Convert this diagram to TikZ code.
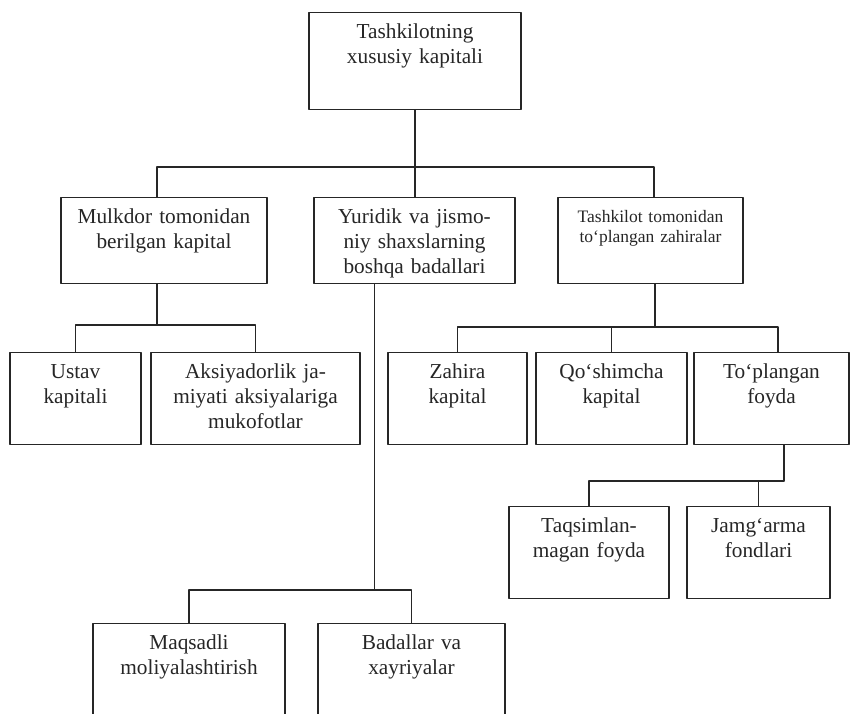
\documentclass[tikz,border=0pt]{standalone}
\usepackage{fontspec}
\setmainfont{Liberation Serif}
\usetikzlibrary{arrows}
\newcommand{\boxfont}{\fontsize{10.65pt}{12.5pt}\selectfont}
\newcommand{\smallboxfont}{\fontsize{8.75pt}{10pt}\selectfont}

\begin{document}
\begin{tikzpicture}[x=0.5pt,y=-0.5pt,line cap=round,line join=round,
  unit/.style={draw=black!85,line width=0.55pt,anchor=north,inner sep=0pt,align=center,
    text=black!85,text height=13pt,font=\boxfont},
  wire/.style={draw=black!85,line width=0.55pt}]
\useasboundingbox (0,0) rectangle (850,713);
\clip (0,0) rectangle (850,713);
\node[unit,text width=106pt,text depth=35.5pt] (own) at (415,12) {Tashkilotning\\xususiy kapitali};
\node[unit,text width=103pt,text depth=30pt] (mulk) at (164,197) {Mulkdor tomonidan\\berilgan kapital};
\node[unit,text width=100.5pt,text depth=30pt] (yur) at (414.5,197) {Yuridik va jismo-\\niy shaxslarning\\boshqa badallari};
\node[unit,text width=92.5pt,text height=12.5pt,text depth=30.5pt,font=\smallboxfont] (tash) at (650.5,197) {Tashkilot tomonidan\\to‘plangan zahiralar};
\node[unit,text width=65.5pt,text depth=33pt] (ustav) at (75.5,352) {Ustav\\kapitali};
\node[unit,text width=104.5pt,text depth=33pt] (aksi) at (255.5,352) {Aksiyadorlik ja-\\miyati aksiyalariga\\mukofotlar};
\node[unit,text width=69.5pt,text depth=33pt] (zah) at (457.5,352) {Zahira\\kapital};
\node[unit,text width=75.5pt,text depth=33pt] (qosh) at (611.5,352) {Qo‘shimcha\\kapital};
\node[unit,text width=77.5pt,text depth=33pt] (topl) at (771.5,352) {To‘plangan\\foyda};
\node[unit,text width=80pt,text depth=33pt] (taqs) at (589,506) {Taqsimlan-\\magan foyda};
\node[unit,text width=71.5pt,text depth=33pt] (jamg) at (758.5,506) {Jamg‘arma\\fondlari};
\node[unit,text width=96pt,text depth=47pt] (maqs) at (189,623) {Maqsadli\\moliyalashtirish};
\node[unit,text width=93.5pt,text depth=47pt] (bad) at (411.5,623) {Badallar va\\xayriyalar};

\coordinate (bus1) at (415,167);
\coordinate (bus2) at (157,325);
\coordinate (bus3) at (655,327);
\coordinate (bus4) at (784,481);
\coordinate (bus5) at (374.5,590);

\draw[wire] (own.south) -- (own.south |- yur.north);
\draw[wire] ([xshift=-3.5pt]mulk.north) |- (bus1) -| ([xshift=1.75pt]tash.north);
\draw[wire] ([xshift=-3.5pt]mulk.south) -- (bus2);
\draw[wire] (ustav.north) |- (bus2) -| (aksi.north);
\draw[wire] ([xshift=2.25pt]tash.south) -- (bus3);
\draw[wire] (zah.north) |- (bus3) -| ([xshift=3.25pt]topl.north);
\draw[wire] (qosh.north) -- (qosh.north |- bus3);
\draw[wire] ([xshift=6.25pt]topl.south) -- (bus4);
\draw[wire] (taqs.north) |- (bus4);
\draw[wire] (jamg.north) -- (jamg.north |- bus4);
\draw[wire] ([xshift=-20pt]yur.south) -- (bus5);
\draw[wire] (maqs.north) |- (bus5) -| (bad.north);
\end{tikzpicture}
\end{document}
